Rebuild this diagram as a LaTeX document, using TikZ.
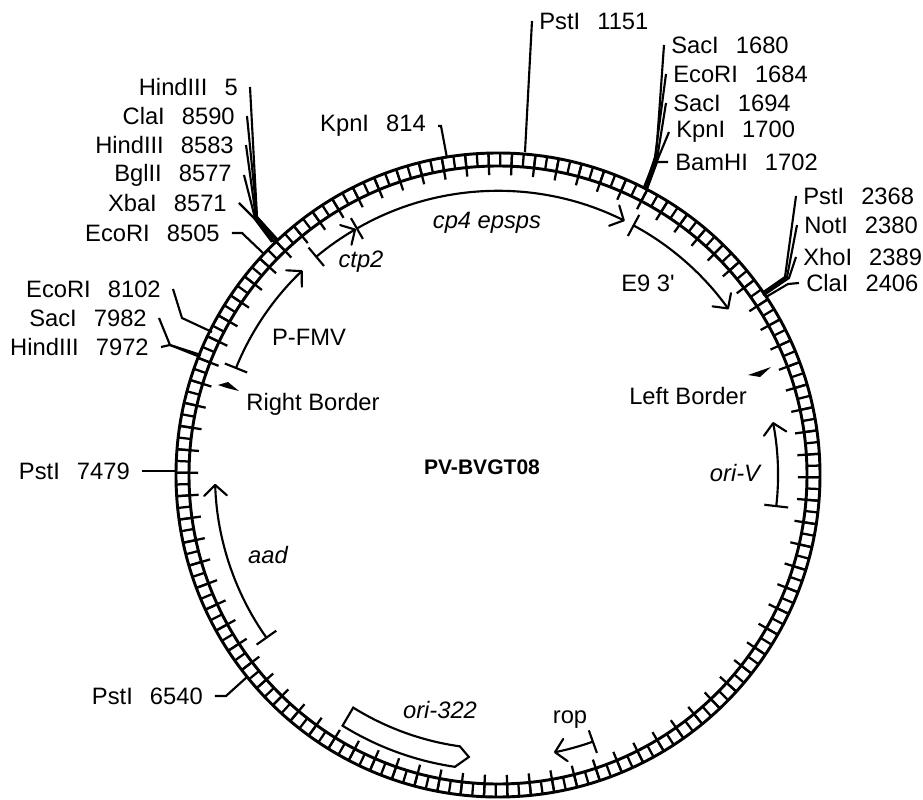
\documentclass[tikz,border=0pt]{standalone}
\usepackage{xcolor}
\usepackage{fontspec}
\setmainfont{Liberation Sans}
\usetikzlibrary{arrows.meta}
\tikzset{
  ringline/.style={line width=2.2pt},
  rungline/.style={line width=1.7pt},
  site/.style={line width=1.6pt},
  feat/.style={line width=1.6pt,{Bar[width=18pt]}-{Straight Barb[length=8pt,width=17pt,round]}},
  txt/.style={font=\fontsize{17.8}{20}\selectfont,inner sep=0pt},
  lleft/.style={txt,anchor=east,inner xsep=9pt},
  lright/.style={txt,anchor=west,inner xsep=5.3pt},
  inlbl/.style={txt,font=\fontsize{17.8}{20}\selectfont\itshape}
}
\newcommand{\sitename}[2]{#1\hspace{0.72em}#2}
\begin{document}
\begin{tikzpicture}[x=0.75pt,y=0.75pt]
  \useasboundingbox (-498,-324) rectangle (425,475);
  % ring
  \draw[ringline] (0,0) circle (322);
  \draw[ringline] (0,0) circle (309);
  \foreach \k in {0,...,171}
    \draw[rungline] ({87.5+\k*2.093023}:309)--({87.5+\k*2.093023}:322);
  \foreach \k in {0,...,85}
    \draw[rungline] ({87.5+\k*4.186047}:322)--({87.5+\k*4.186047}:300);
  % sites on the left
  \node[lleft] (hindA) at (-248,388) {\sitename{HindIII}{5}};
  \node[lleft] (claA) at (-251,359) {\sitename{ClaI}{8590}};
  \node[lleft] (hindB) at (-252,330) {\sitename{HindIII}{8583}};
  \node[lleft] (bgl) at (-254,300) {\sitename{BglII}{8577}};
  \node[lleft] (xba) at (-259,272) {\sitename{XbaI}{8571}};
  \node[lleft] (ecoA) at (-266,242) {\sitename{EcoRI}{8505}};
  \node[lleft] (ecoB) at (-325,186) {\sitename{EcoRI}{8102}};
  \node[lleft] (sacA) at (-339,157) {\sitename{SacI}{7982}};
  \node[lleft] (hindC) at (-337,128) {\sitename{HindIII}{7972}};
  \node[lleft] (kpnA) at (-60,349) {\sitename{KpnI}{814}};
  \node[lleft] (pstA) at (-356,4) {\sitename{PstI}{7479}};
  \node[lleft] (pstB) at (-283,-221) {\sitename{PstI}{6540}};
  \draw[site] (hindA.east)--(-241,258)--(-220,235);
  \draw[site] (claA.east)--(-241,258)--(-220,234);
  \draw[site] (hindB.east)--(-242,257)--(-222,234);
  \draw[site] (bgl.east)--(-243,257)--(-224,233);
  \draw[site] (xba.east)--(-244,257)--(-226,233);
  \draw[site] (ecoA.east)--(-256,242)--(-235,222);
  \draw[site] (ecoB.east)--(-316,157)--(-286,143);
  \draw[site] (sacA.east)--(-328,130)--(-298,118);
  \draw[site] (hindC.east)--(-328,130)--(-297,120);
  \draw[site] (kpnA.east)--(-57,349)--(-51,317);
  \draw[site] (pstA.east)--(-321,4);
  \draw[site] (pstB.east)--(-272,-221)--(-251,-202);
  % sites on the right
  \node[lright] (pstC) at (34,454) {\sitename{PstI}{1151}};
  \node[lright] (sacB) at (166,430) {\sitename{SacI}{1680}};
  \node[lright] (ecoC) at (168,401) {\sitename{EcoRI}{1684}};
  \node[lright] (sacC) at (168,372) {\sitename{SacI}{1694}};
  \node[lright] (kpnB) at (171,343) {\sitename{KpnI}{1700}};
  \node[lright] (bam) at (170,313) {\sitename{BamHI}{1702}};
  \node[lright] (pstD) at (298,279) {\sitename{PstI}{2368}};
  \node[lright] (notA) at (299,250) {\sitename{NotI}{2380}};
  \node[lright] (xho) at (298,218) {\sitename{XhoI}{2389}};
  \node[lright] (claB) at (301,192) {\sitename{ClaI}{2406}};
  \draw[site] (pstC.west)--(27,323);
  \draw[site] (sacB.west)--(158,318)--(146,288);
  \draw[site] (ecoC.west)--(157,318)--(147,287);
  \draw[site] (sacC.west)--(159,316)--(148,287);
  \draw[site] (kpnB.west)--(159,314)--(149,287);
  \draw[site] (bam.west)--(159,313)--(149,286);
  \draw[site] (pstD.west)--(287,198)--(264,182);
  \draw[site] (notA.west)--(289,198)--(265,180);
  \draw[site] (xho.west)--(291,197)--(266,180);
  \draw[site] (claB.west)--(290,191)--(268,178);
  % features
  \draw[feat] (130:284) arc[start angle=130,end angle=120,radius=284];
  \draw[feat] (120:284) arc[start angle=120,end angle=63.5,radius=284];
  \draw[feat] (61.7:284) arc[start angle=61.7,end angle=35.7,radius=284];
  \draw[feat] (158:283) arc[start angle=158,end angle=133.7,radius=283];
  \draw[feat] (215.3:283) arc[start angle=215.3,end angle=181.8,radius=283];
  \draw[feat] (-6.6:280) arc[start angle=-6.6,end angle=10.9,radius=280];
  \draw[feat] (-70.2:283) arc[start angle=-70.2,end angle=-78.6,radius=283];
  \draw[line width=1.6pt] (238.1:274) arc[start angle=238.1,end angle=262,radius=274]
    --(264.1:283.5)--(261.6:295) arc[start angle=261.6,end angle=238.2,radius=295]--cycle;
  \fill (-280,90)--(-270,93)--(-259,84)--(-271,87)--cycle;
  \fill (273,108)--(250,100)--(262,98)--cycle;
  % names
  \node[txt,font=\fontsize{15.8}{18}\selectfont\bfseries] (plasmid) at (-16,8) {PV-BVGT08};
  \node[inlbl] (cpf) at (-11,252) {cp4 epsps};
  \node[inlbl] (ctp) at (-137,213) {ctp2};
  \node[txt] (enine) at (150,192) {E9 3\textquotesingle};
  \node[txt] (pfmv) at (-189,138) {P-FMV};
  \node[txt] (rborder) at (-185,71) {Right Border};
  \node[txt] (lborder) at (190,79) {Left Border};
  \node[inlbl] (oriv) at (237,2) {ori-V};
  \node[inlbl] (aad) at (-230,-80) {aad};
  \node[inlbl] (orib) at (-58,-235) {ori-322};
  \node[txt] (rop) at (72,-245) {rop};
\end{tikzpicture}
\end{document}
